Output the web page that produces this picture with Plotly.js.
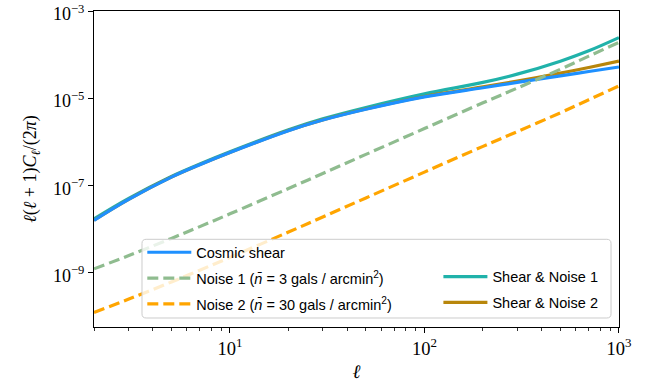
<!DOCTYPE html>
<html>
<head>
<meta charset="utf-8">
<script src="https://cdn.plot.ly/plotly-3.0.1.min.js"></script>
<style>html,body{margin:0;padding:0;background:#fff;}#chart{width:654px;height:386px;}</style>
</head>
<body>
<div id="chart"></div>
<script>
const ell = [2, 3, 5, 7, 10, 20, 30, 50, 100, 200, 300, 500, 700, 1000];
// l(l+1)C_l/(2pi)
const cosmicShear = [1.56e-8, 4.65e-8, 1.53e-7, 2.96e-7, 5.64e-7, 1.79e-6, 3.14e-6, 5.56e-6, 1.07e-5, 1.73e-5, 2.29e-5, 3.24e-5, 4.08e-5, 5.18e-5];
const noise1 = [1.2e-9, 2.4e-9, 6.0e-9, 1.12e-8, 2.2e-8, 8.4e-8, 1.86e-7, 5.1e-7, 2.0e-6, 7.8e-6, 1.7e-5, 4.6e-5, 9.2e-5, 1.9e-4];
const noise2 = [1.2e-10, 2.4e-10, 6.0e-10, 1.12e-9, 2.2e-9, 8.4e-9, 1.86e-8, 5.1e-8, 2.0e-7, 7.8e-7, 1.7e-6, 4.6e-6, 9.2e-6, 1.9e-5];
const shearNoise1 = [1.68e-8, 4.9e-8, 1.59e-7, 3.07e-7, 5.86e-7, 1.87e-6, 3.33e-6, 6.07e-6, 1.25e-5, 2.3e-5, 3.55e-5, 7.06e-5, 1.22e-4, 2.45e-4];
const shearNoise2 = [1.57e-8, 4.67e-8, 1.54e-7, 2.97e-7, 5.66e-7, 1.80e-6, 3.16e-6, 5.61e-6, 1.09e-5, 1.81e-5, 2.47e-5, 3.74e-5, 5.06e-5, 7.1e-5];

const seriesNames = ['Cosmic shear',
  'Noise 1 (<i>n̄</i> = 3 gals / arcmin<sup>2</sup>)',
  'Noise 2 (<i>n̄</i> = 30 gals / arcmin<sup>2</sup>)',
  'Shear &amp; Noise 1',
  'Shear &amp; Noise 2'];

const xTickVals = [10, 100, 1000];
const xTickText = ['10<sup>1</sup>', '10<sup>2</sup>', '10<sup>3</sup>'];
const yTickVals = [1e-9, 1e-7, 1e-5, 1e-3];
const yTickText = ['10<sup>−9</sup>', '10<sup>−7</sup>', '10<sup>−5</sup>', '10<sup>−3</sup>'];

const W = 3.2;
const traces = [
  {x: ell, y: shearNoise1, name: seriesNames[3], mode: 'lines', line: {color: '#20B2AA', width: W, shape: 'spline'}, legend: 'legend2', legendgroup: 'd'},
  {x: ell, y: shearNoise2, name: seriesNames[4], mode: 'lines', line: {color: '#B8860B', width: W, shape: 'spline'}, legend: 'legend2', legendgroup: 'e'},
  {x: ell, y: cosmicShear, name: seriesNames[0], mode: 'lines', line: {color: '#1E90FF', width: W, shape: 'spline'}, legend: 'legend', legendgroup: 'a'},
  {x: ell, y: noise1, name: seriesNames[1], mode: 'lines', line: {color: '#8FBC8F', width: W, dash: '11px,5px', shape: 'spline'}, legend: 'legend', legendgroup: 'b'},
  {x: ell, y: noise2, name: seriesNames[2], mode: 'lines', line: {color: '#FFA500', width: W, dash: '11px,5px', shape: 'spline'}, legend: 'legend', legendgroup: 'c'}
];

// legend frame geometry (paper units)
const bx0 = 0.0914, bx1 = 0.9848, by0 = 0.0285, by1 = 0.2775, rx = 0.008, ry = 0.013;
const framePath = `M ${bx0+rx},${by0} L ${bx1-rx},${by0} Q ${bx1},${by0} ${bx1},${by0+ry} L ${bx1},${by1-ry} Q ${bx1},${by1} ${bx1-rx},${by1} L ${bx0+rx},${by1} Q ${bx0},${by1} ${bx0},${by1-ry} L ${bx0},${by0+ry} Q ${bx0},${by0} ${bx0+rx},${by0} Z`;

const serif = 'Liberation Serif, DejaVu Serif, serif';
const sans = 'Liberation Sans, Arial, sans-serif';
const legendFont = {family: sans, size: 14.5, color: '#000'};

const layout = {
  width: 654, height: 386,
  margin: {l: 94, r: 35, t: 11, b: 59, pad: 0},
  paper_bgcolor: '#fff', plot_bgcolor: '#fff',
  showlegend: true,
  xaxis: {
    type: 'log', range: [Math.log10(2), 3.0004],
    showgrid: false, zeroline: false,
    showline: true, linecolor: '#000', linewidth: 1, mirror: true,
    ticks: 'outside', ticklen: 5, tickwidth: 1, tickcolor: '#000',
    tickvals: xTickVals, ticktext: xTickText, ticklabeloverflow: 'allow',
    tickfont: {family: serif, size: 18.5, color: '#000'},
    minor: {ticks: 'outside', ticklen: 3, tickwidth: 0.8, tickcolor: '#000', dtick: 'D1', showgrid: false},
    title: {text: '<i>ℓ</i>', font: {family: serif, size: 19, color: '#000'}, standoff: 6}
  },
  yaxis: {
    type: 'log', range: [-10.256, -2.9996],
    showgrid: false, zeroline: false,
    showline: true, linecolor: '#000', linewidth: 1, mirror: true,
    ticks: 'outside', ticklen: 5, tickwidth: 1, tickcolor: '#000',
    tickvals: yTickVals, ticktext: yTickText, ticklabeloverflow: 'allow', ticklabelshift: 3,
    tickfont: {family: serif, size: 18, color: '#000'},
    title: {text: '<i>ℓ</i>(<i>ℓ</i> + 1)<i>C<sub>ℓ</sub></i>/(2<i>π</i>)', font: {family: serif, size: 18, color: '#000'}, standoff: 11}
  },
  shapes: [{type: 'path', xref: 'paper', yref: 'paper', path: framePath, fillcolor: 'rgba(255,255,255,0.8)', line: {color: '#cccccc', width: 1}, layer: 'above'}],
  legend: {x: 0.092, y: 0.287, xanchor: 'left', yanchor: 'top', bgcolor: 'rgba(0,0,0,0)', borderwidth: 0, font: legendFont, traceorder: 'grouped', tracegroupgap: 4, itemwidth: 44},
  legend2: {x: 0.656, y: 0.210, xanchor: 'left', yanchor: 'top', bgcolor: 'rgba(0,0,0,0)', borderwidth: 0, font: legendFont, traceorder: 'grouped', tracegroupgap: 4, itemwidth: 44}
};

Plotly.newPlot('chart', traces, layout, {staticPlot: true, displayModeBar: false});
</script>
</body>
</html>
